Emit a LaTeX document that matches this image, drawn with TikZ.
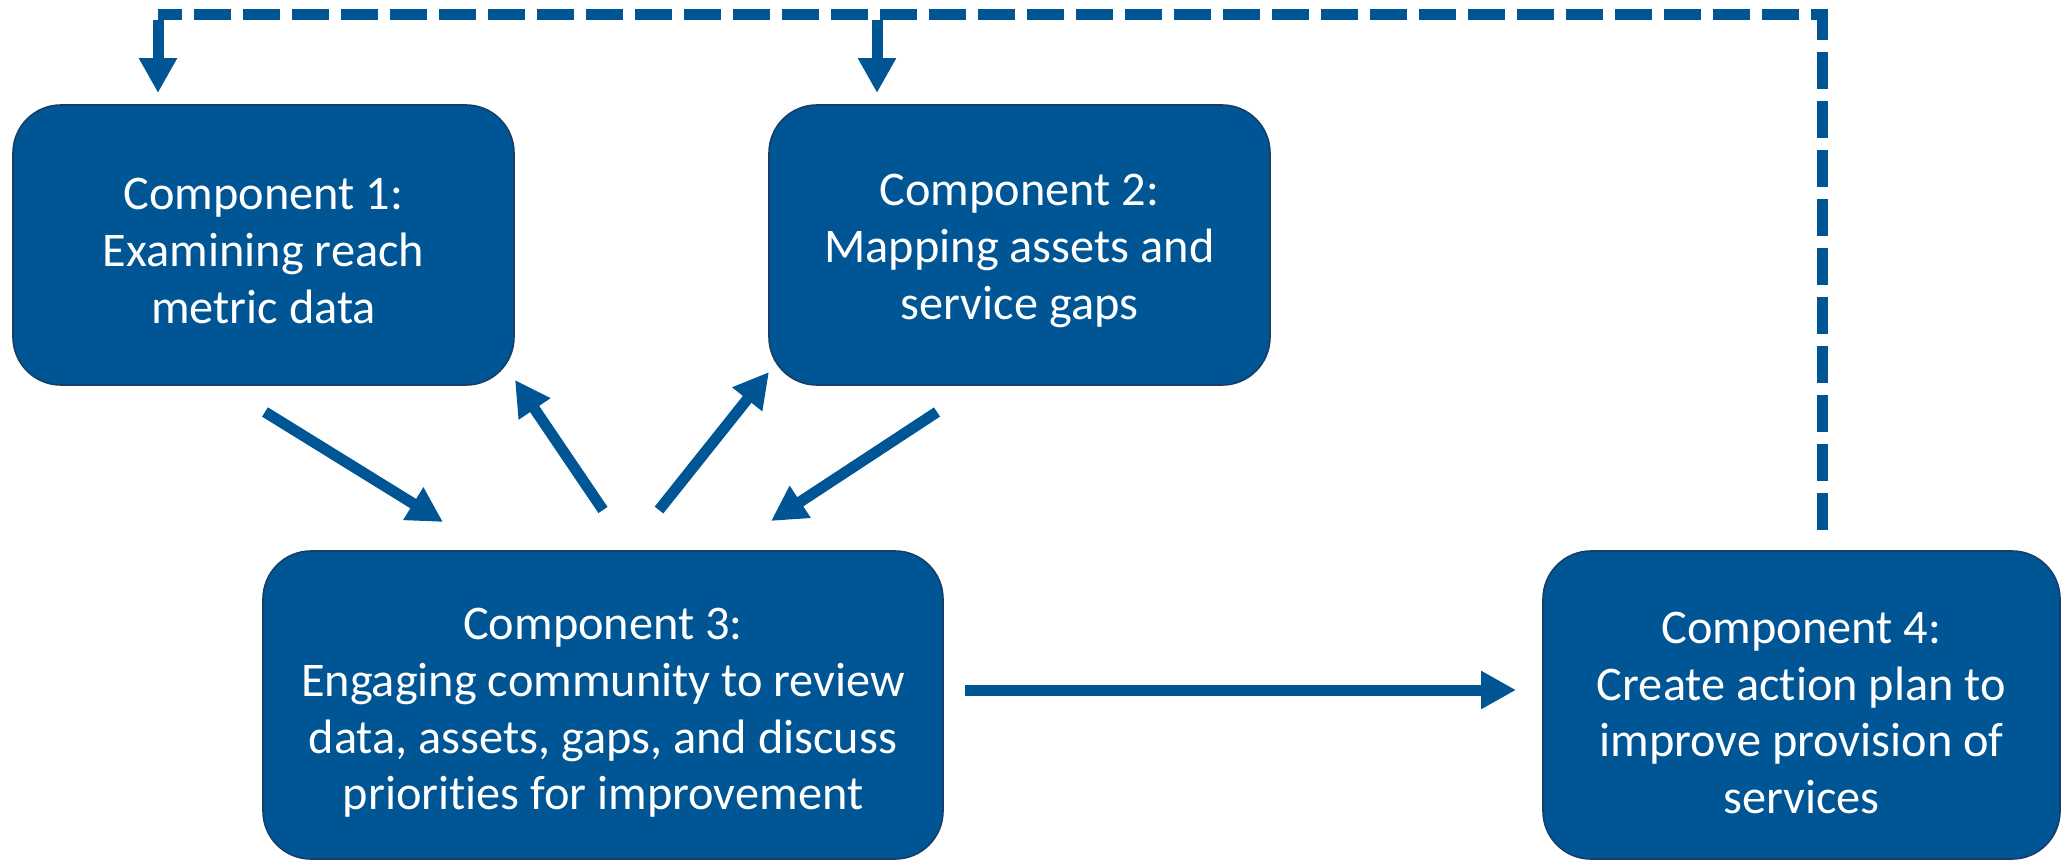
\documentclass[tikz,border=0pt]{standalone}
\usepackage{fontspec}
\setmainfont{Carlito}[Ligatures=NoCommon]
\usetikzlibrary{arrows.meta}
\definecolor{boxblue}{RGB}{0,85,148}
\definecolor{boxedge}{RGB}{22,62,104}
\definecolor{arrblue}{RGB}{0,85,148}
\tikzset{
  compbox/.style={draw=boxedge, line width=1.6bp, fill=boxblue, rounded corners=48bp, inner sep=0pt},
  comptext/.style={text=white, align=center, inner sep=0pt,
    font=\fontsize{48.5}{57}\selectfont},
  conn/.style={draw=arrblue, line width=11bp,
    -{Triangle[length=35bp,width=36bp]}},
  loopline/.style={draw=arrblue, line width=11bp, dash pattern=on 37bp off 12bp}
}
\begin{document}
\begin{tikzpicture}[x=1bp,y=-1bp]
\useasboundingbox (0,0) rectangle (2062,861);
% boxes
\node[compbox, minimum width=501bp, minimum height=280bp] (b1) at (263.5,245) {};
\node[compbox, minimum width=501bp, minimum height=280bp] (b2) at (1019.5,245) {};
\node[compbox, minimum width=680bp, minimum height=308bp] (b3) at (603,705) {};
\node[compbox, minimum width=517bp, minimum height=308bp] (b4) at (1801.5,705) {};
% texts
\node[comptext] (t1) at ([yshift=-6bp]b1.center) {Component 1:\\Examining reach\\metric data};
\node[comptext] (t2) at ([yshift=-6bp]b2.center) {Component 2:\\Mapping assets and\\service gaps};
\node[comptext] (t3) at ([yshift=-8bp]b3.center) {Component 3:\\Engaging community to review\\data, assets, gaps, and discuss\\priorities for improvement};
\node[comptext] (t4) at ([yshift=-8bp]b4.center) {Component 4:\\Create action plan to\\improve provision of\\services};
% connector end points
\coordinate (a1s) at (265,412);
\coordinate (a1e) at (443,522);
\coordinate (a2s) at (603,510);
\coordinate (a2e) at (515,380);
\coordinate (a3s) at (659,510);
\coordinate (a3e) at (769,372);
\coordinate (a4s) at (937,412);
\coordinate (a4e) at (771,521);
\coordinate (a5s) at (965,690);
\coordinate (a5e) at (1516,690);
\coordinate (fb) at (1822,530);
\coordinate (c1) at (158,14);
\coordinate (c1e) at (158,93);
\coordinate (c2) at (877,14);
\coordinate (c2e) at (877,93);
% connectors
\draw[conn] (a1s) -- (a1e);
\draw[conn] (a2s) -- (a2e);
\draw[conn] (a3s) -- (a3e);
\draw[conn] (a4s) -- (a4e);
\draw[conn] (a5s) -- (a5e);
% feedback loop
\draw[loopline] (fb) |- (c1);
\draw[conn] ([yshift=-5.5bp]c1) -- (c1e);
\draw[conn] ([yshift=-5.5bp]c2) -- (c2e);
\end{tikzpicture}
\end{document}
